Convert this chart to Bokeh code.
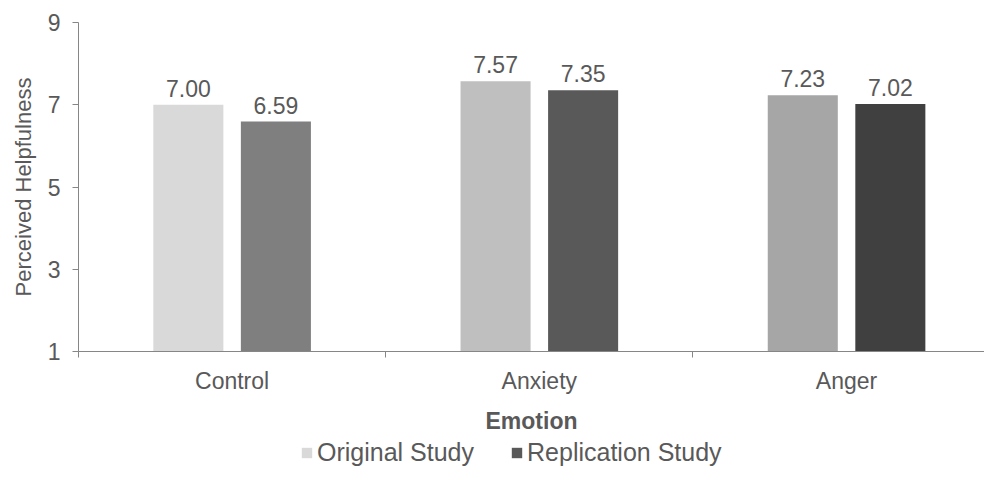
import numpy as np
from bokeh.plotting import figure
from bokeh.models import ColumnDataSource, Range1d, FixedTicker, Legend, LegendItem, Label
from bokeh.transform import dodge
from bokeh.embed import file_html
from bokeh.resources import INLINE

categories = ["Control", "Anxiety", "Anger"]
original = [7.00, 7.57, 7.23]
replication = [6.59, 7.35, 7.02]
original_colors = ["#d9d9d9", "#bfbfbf", "#a6a6a6"]
replication_colors = ["#7f7f7f", "#595959", "#404040"]
y_ticks = [1, 3, 5, 7, 9]
y_min, y_max = 1, 9
x_label = "Emotion"
y_label = "Perceived Helpfulness"
series_names = ["Original Study", "Replication Study"]

FONT = "Liberation Sans"
TXT = "#595959"
AX = "#868686"
FS = "23px"

pos = (np.arange(len(categories)) + 0.5).tolist()
src = ColumnDataSource(dict(
    pos=pos, orig=original, rep=replication,
    orig_lbl=[f"{v:.2f}" for v in original],
    rep_lbl=[f"{v:.2f}" for v in replication],
    orig_col=original_colors, rep_col=replication_colors,
))

# the frame covers the whole canvas; axes are pinned inside it
frame_w, frame_h = 984, 489
top_pad = 22
py_per_unit = 329 / (y_max - y_min)
px_per_unit = 906 / 2.949
y_end = y_max + top_pad / py_per_unit
y_start = y_end - frame_h / py_per_unit
x_end = 2.949
x_start = x_end - frame_w / px_per_unit

p = figure(frame_width=frame_w, frame_height=frame_h,
           output_backend="svg", toolbar_location=None,
           x_range=Range1d(x_start, x_end), y_range=Range1d(y_start, y_end),
           min_border_left=0, min_border_right=0, min_border_top=0, min_border_bottom=0)
p.outline_line_color = None
p.xgrid.visible = False
p.ygrid.visible = False

off = 0.1425
bw = 0.228
r1 = p.vbar(x=dodge("pos", -off, range=p.x_range), top="orig", bottom=y_min, width=bw,
            fill_color="orig_col", line_color=None, source=src)
r2 = p.vbar(x=dodge("pos", off, range=p.x_range), top="rep", bottom=y_min, width=bw,
            fill_color="rep_col", line_color=None, source=src)

for fld, lbl in (("orig", "orig_lbl"), ("rep", "rep_lbl")):
    p.text(x=dodge("pos", -off if fld == "orig" else off, range=p.x_range), y=fld, text=lbl,
           source=src, text_align="center", text_baseline="bottom", y_offset=-8,
           text_font={"value": FONT}, text_font_size=FS, text_color=TXT)

# y axis, pinned at x = 0
ya = p.yaxis[0]
ya.fixed_location = 0
ya.ticker = FixedTicker(ticks=y_ticks)
ya.bounds = (y_min, y_max)
ya.axis_label = None
ya.major_label_text_font = FONT
ya.major_label_text_font_size = FS
ya.major_label_text_color = TXT
ya.major_label_standoff = 12
ya.axis_line_color = AX
ya.major_tick_line_color = AX
ya.major_tick_out = 6
ya.major_tick_in = 0
ya.minor_tick_line_color = None

p.add_layout(Label(x=23, y=(y_min + y_max) / 2, x_units="screen", y_units="data",
                   text=y_label, angle=90, angle_units="deg",
                   text_align="center", text_baseline="middle",
                   text_font=FONT, text_font_size="22px", text_color=TXT))

# x axis, pinned at y = 1
xa = p.xaxis[0]
xa.fixed_location = y_min
xa.bounds = (0, x_end)
xa.ticker = FixedTicker(ticks=pos, minor_ticks=list(range(len(categories) + 1)))
xa.major_label_overrides = {pv: c for pv, c in zip(pos, categories)}
xa.axis_label = x_label
xa.axis_label_text_font = FONT
xa.axis_label_text_font_style = "bold"
xa.axis_label_text_font_size = "23px"
xa.axis_label_text_color = TXT
xa.axis_label_standoff = 11
xa.major_label_text_font = FONT
xa.major_label_text_font_size = FS
xa.major_label_text_color = TXT
xa.major_label_standoff = 10
xa.axis_line_color = AX
xa.major_tick_line_color = None
xa.major_tick_out = 0
xa.major_tick_in = 0
xa.minor_tick_line_color = AX
xa.minor_tick_out = 6
xa.minor_tick_in = 0

legend = Legend(items=[LegendItem(label=series_names[0], renderers=[r1], index=0),
                       LegendItem(label=series_names[1], renderers=[r2], index=1)],
                orientation="horizontal", location=(300, 22),
                label_text_font=FONT, label_text_font_size="25px", label_text_color=TXT,
                glyph_width=13, glyph_height=13, spacing=36, label_standoff=4,
                label_height=20, padding=0, margin=0, border_line_color=None,
                background_fill_alpha=0)
p.add_layout(legend, "center")

open("out.html", "w").write(file_html(p, INLINE))
